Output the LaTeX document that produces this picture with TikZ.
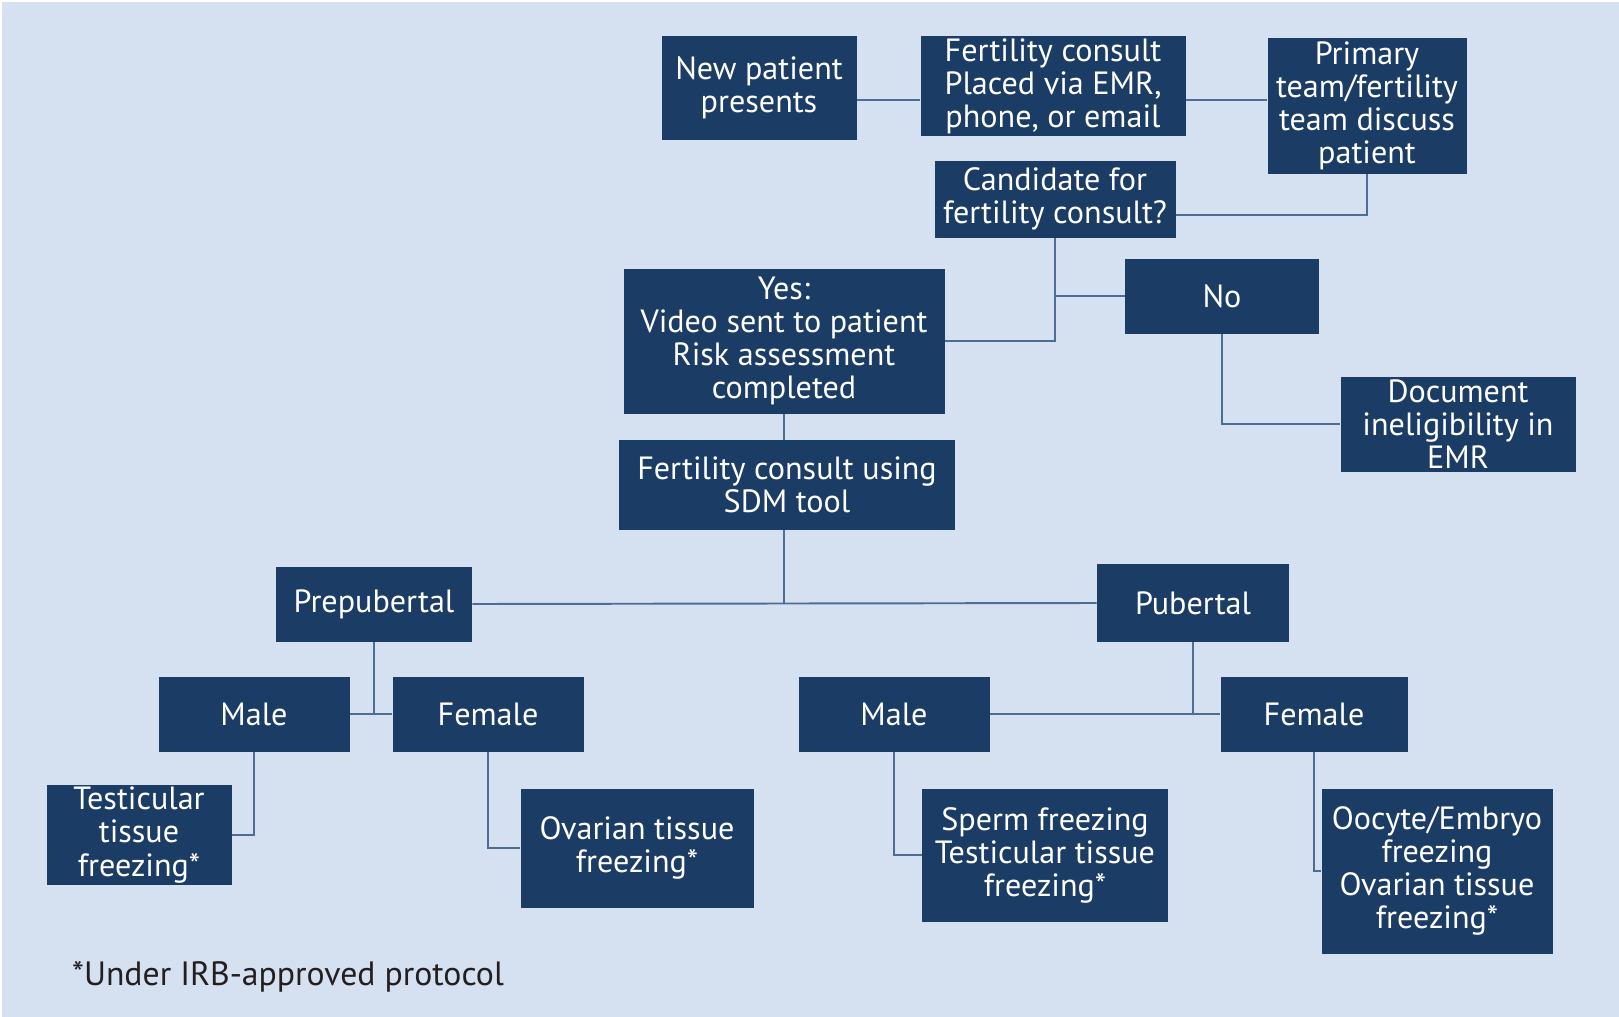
\documentclass[tikz,border=0pt]{standalone}
\usepackage{fontspec}
\setmainfont{PT Sans}
\definecolor{pagebg}{HTML}{D5E0F1}
\definecolor{boxnavy}{HTML}{1B3C65}
\definecolor{linkblue}{HTML}{4D6D93}
\definecolor{notegray}{HTML}{231F20}
\tikzset{
  flowbox/.style={fill=boxnavy,text=white,align=center,inner sep=0pt,
    font=\fontsize{18.3}{18.8}\selectfont},
  boxsize/.style 2 args={minimum width=#1*0.02cm,minimum height=#2*0.02cm},
  link/.style={draw=linkblue,line width=1.1pt}
}
\begin{document}
\begin{tikzpicture}[x=0.02cm,y=-0.02cm]
			\useasboundingbox (0,0) rectangle (1619,1017);
			\fill[white] (0,0) rectangle (1619,1017);
			\fill[pagebg] (2,2) rectangle (1619,1017);
			\foreach \nm/\x/\y/\w/\h/\texn in {
				newp/759/88/195/103/{New patient\\presents},
				place/1053/86/265/99/{Fertility consult\\Placed via EMR,\\phone, or email},
				team/1367/106/199/135/{Primary\\team/fertility\\team discuss\\patient},
				cand/1055/199/241/77/{Candidate for\\fertility consult?},
				yes/784/341/321/145/{Yes:\\Video sent to patient\\Risk assessment\\completed},
				no/1222/296/194/75/{No},
				doc/1458/424/235/95/{Document\\ineligibility in\\EMR},
				sdm/787/485/336/90/{Fertility consult using\\SDM tool},
				prep/374/604/196/75/{Prepubertal},
				pub/1193/603/192/78/{Pubertal},
				pmale/254/714/191/75/{Male},
				pfem/488/714/191/75/{Female},
				bmale/894/714/191/75/{Male},
				bfem/1314/714/187/75/{Female},
				ptest/139/835/185/100/{Testicular\\tissue\\freezing*},
				pova/637/848/233/119/{Ovarian tissue\\freezing*},
				sperm/1045/855/246/133/{Sperm freezing\\Testicular tissue\\freezing*},
				oocyte/1437/871/231/165/{Oocyte/Embryo\\freezing\\Ovarian tissue\\freezing*}}
			\path (\x,\y) node[flowbox,boxsize={\w}{\h}](\nm){\texn};
			\node[anchor=west,text=notegray,font=\fontsize{19.2}{22}\selectfont]
			(note) at (66,977) {*Under IRB-approved protocol};
			% top row
			\coordinate (toprow) at (0,100);
			\coordinate (candrow) at (0,215);
			\draw[link] (newp.east|-toprow)--(place.west|-toprow);
			\draw[link] (place.east|-toprow)--(team.west|-toprow);
			\draw[link] (team.south)|-(cand.east|-candrow);
			% candidate split
			\draw[link] (cand.south)|-(yes.east);
			\draw[link] (cand.south|-no.west)--(no.west);
			\draw[link] (no.south)|-(doc.west);
			\draw[link] (yes.south)--(yes.south|-sdm.north);
			% age groups
			\draw[link] (prep.east)--(pub.west);
			\draw[link] (sdm.south-|yes.south)--(yes.south|-prep.east);
			\draw[link] (prep.south)--(prep.south|-pmale.east);
			\draw[link] (pmale.east)--(pfem.west);
			\draw[link] (pub.south)--(pub.south|-bmale.east);
			\draw[link] (bmale.east)--(bfem.west);
			% options
			\draw[link] (pmale.south)|-(ptest.east);
			\draw[link] (pfem.south)|-(pova.west);
			\draw[link] (bmale.south)|-(sperm.west);
			\draw[link] (bfem.south)|-(oocyte.west);
		\end{tikzpicture}
\end{document}
